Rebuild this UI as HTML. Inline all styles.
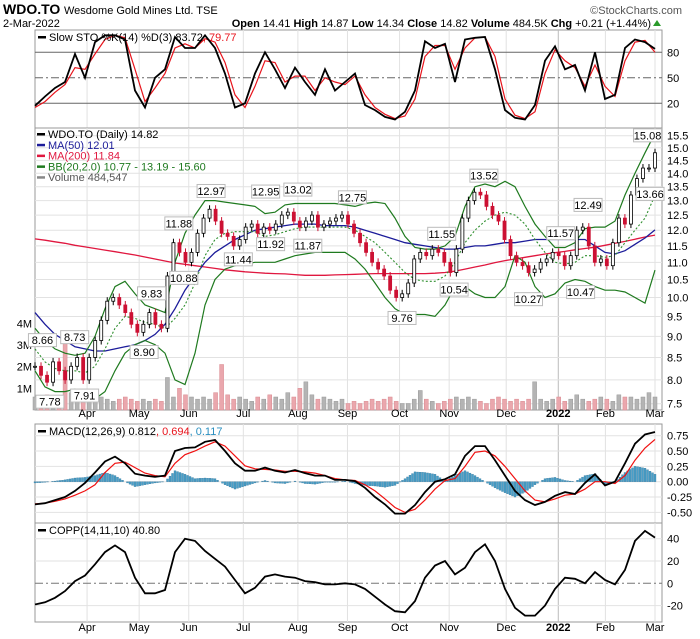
<!DOCTYPE html>
<html><head><meta charset="utf-8"><style>
html,body{margin:0;padding:0;background:#fff;}
svg{display:block;font-family:"Liberation Sans",sans-serif;}
</style></head><body>
<svg id="c" width="700" height="639" viewBox="0 0 700 639" xmlns="http://www.w3.org/2000/svg">
<g>
<text x="3" y="14" font-size="14" font-weight="bold">WDO.TO</text>
<text x="64" y="14" font-size="11">Wesdome Gold Mines Ltd.  TSE</text>
<text x="682" y="14" font-size="11" fill="#555" text-anchor="end">©StockCharts.com</text>
<text x="3" y="27" font-size="11">2-Mar-2022</text>
<text x="651" y="27" font-size="11" text-anchor="end"><tspan font-weight="bold">Open</tspan> 14.41 <tspan font-weight="bold">High</tspan> 14.87 <tspan font-weight="bold">Low</tspan> 14.34 <tspan font-weight="bold">Close</tspan> 14.82 <tspan font-weight="bold">Volume</tspan> 484.5K <tspan font-weight="bold">Chg</tspan> +0.21 (+1.44%)</text>
<path d="M653 26 L661 26 L657 20 Z" fill="#2a9a2a"/>
</g>
<g id="grid"></g>
<g id="marks"></g>
<g id="labels"></g>
</svg>
<script>
// ---- data ----
const monthNames=["Apr","May","Jun","Jul","Aug","Sep","Oct","Nov","Dec","2022","Feb","Mar"];
const monthDays=[21,42,62,84,106,126,147,167,190,211,230,250];
const closes=[8.3,8.1,7.95,8.4,8.2,8.0,8.3,8.5,8.0,8.5,8.9,9.4,9.9,10.0,9.8,9.6,9.3,9.1,9.3,9.6,9.3,9.2,10.6,11.6,11.3,11.0,11.3,11.9,12.4,12.7,12.3,11.9,11.8,11.5,11.7,12.1,12.2,11.9,12.1,12.0,12.2,12.5,12.6,12.3,12.1,12.3,12.5,12.1,12.2,12.3,12.4,12.5,12.2,11.9,11.6,11.3,11.0,10.8,10.6,10.2,10.0,10.1,10.4,11.1,11.3,11.2,11.4,11.3,11.0,10.7,11.4,12.4,13.0,13.3,13.2,12.8,12.5,12.3,11.7,11.2,11.0,10.9,10.7,10.8,11.0,11.1,11.3,11.2,10.9,11.2,12.0,12.1,11.5,11.0,11.1,10.9,11.6,12.4,12.2,13.2,13.8,14.2,14.2,14.8];
const volumes=[0.6,0.5,0.7,0.5,0.6,3.2,0.8,0.5,0.7,0.6,0.5,0.6,0.5,0.4,0.5,0.6,0.5,0.4,0.5,0.4,0.5,0.4,1.5,0.6,1.0,0.7,0.6,0.5,0.6,0.5,0.8,2.1,0.7,0.5,0.6,0.5,0.4,0.6,0.5,0.7,0.6,0.5,0.8,0.6,1.0,1.3,0.7,0.5,0.6,0.5,0.4,0.5,0.3,0.4,0.3,0.4,0.5,0.4,0.5,0.6,0.4,0.3,0.3,0.5,0.9,0.5,0.4,0.3,0.4,0.5,0.6,0.5,0.6,0.5,0.4,0.3,0.5,0.6,0.5,0.4,0.5,0.4,0.5,1.3,0.5,0.4,0.5,0.6,0.4,0.5,0.7,0.5,0.4,0.5,0.6,0.5,0.4,0.7,0.6,0.6,0.5,0.6,0.8,0.6];
const bbUpper=[9.2,8.9,8.7,8.6,8.55,8.6,9.0,9.7,10.3,10.45,10.1,9.8,9.7,9.6,11.0,11.9,12.5,13.0,13.0,12.95,12.9,12.85,12.8,12.55,12.6,12.85,12.9,12.9,12.9,12.9,12.9,12.85,12.8,12.9,12.95,12.9,12.4,11.8,11.45,11.4,11.4,11.5,11.8,12.8,13.5,13.6,13.5,13.7,13.5,12.8,12.2,11.8,11.45,11.45,11.6,12.05,12.1,12.1,12.3,13.2,14.0,14.8,15.6];
const bbLower=[8.2,7.85,7.75,7.75,7.8,7.65,7.6,7.75,8.2,8.6,8.8,8.9,8.8,8.6,8.0,7.9,8.6,9.8,10.5,10.8,10.9,10.95,11.0,11.0,11.0,11.1,11.2,11.25,11.3,11.3,11.3,11.3,11.1,10.8,10.4,10.0,9.7,9.55,9.55,9.55,9.5,9.8,10.3,10.3,10.1,10.0,10.0,10.3,11.2,11.0,10.3,10.0,10.1,10.4,10.5,10.45,10.3,10.2,10.2,10.15,10.0,9.85,10.77];
const bbMid=[8.7,8.4,8.25,8.2,8.2,8.15,8.3,8.7,9.2,9.5,9.45,9.35,9.3,9.2,9.45,9.8,10.4,11.2,11.7,11.9,11.95,11.95,11.95,11.8,11.85,11.95,12.05,12.1,12.1,12.1,12.1,12.1,12.0,11.8,11.6,11.3,11.0,10.7,10.5,10.45,10.45,10.6,11.0,11.6,12.0,12.3,12.5,12.6,12.5,12.2,11.7,11.3,11.0,10.95,11.0,11.2,11.2,11.15,11.2,11.6,12.0,12.4,13.19];
const ma50=[9.6,9.3,9.05,8.9,8.75,8.7,8.65,8.65,8.7,8.75,8.8,8.9,9.05,9.3,9.7,10.2,10.6,11.0,11.3,11.5,11.7,11.85,12.0,12.05,12.1,12.15,12.2,12.2,12.2,12.15,12.15,12.15,12.1,12.0,11.9,11.8,11.7,11.6,11.55,11.5,11.45,11.4,11.4,11.45,11.5,11.5,11.55,11.6,11.6,11.65,11.7,11.7,11.7,11.7,11.7,11.7,11.5,11.3,11.25,11.35,11.55,11.75,12.01];
const ma200=[11.72,11.68,11.63,11.58,11.52,11.47,11.42,11.37,11.32,11.27,11.22,11.16,11.1,11.04,10.98,10.94,10.9,10.86,10.82,10.78,10.75,10.72,10.7,10.68,10.67,10.66,10.64,10.62,10.62,10.62,10.63,10.64,10.65,10.66,10.67,10.67,10.67,10.67,10.67,10.67,10.68,10.7,10.74,10.8,10.86,10.92,10.99,11.05,11.1,11.15,11.2,11.25,11.29,11.33,11.38,11.42,11.46,11.52,11.58,11.64,11.71,11.78,11.84];
const stoK=[17,28,38,45,78,50,92,100,100,95,35,15,50,60,98,85,85,100,85,55,15,20,55,80,60,38,62,45,30,60,35,45,55,18,12,4,1,10,35,93,85,90,45,95,97,98,60,12,3,1,18,70,87,60,65,35,80,25,30,85,95,92,84];
const stoD=[15,22,33,42,62,60,78,95,100,97,60,22,38,55,85,90,85,96,92,68,30,15,40,70,68,45,52,52,35,50,45,42,52,30,15,7,2,5,25,75,88,88,60,85,97,98,75,25,6,2,10,55,83,70,62,40,65,40,28,70,92,94,80];
const macdLine=[-0.37,-0.35,-0.3,-0.25,-0.15,-0.02,0.15,0.33,0.41,0.3,0.13,0.1,0.08,0.1,0.5,0.55,0.56,0.65,0.68,0.5,0.3,0.18,0.18,0.23,0.18,0.15,0.19,0.14,0.1,0.1,0.03,0.03,0.01,-0.1,-0.25,-0.37,-0.52,-0.52,-0.38,-0.17,0.0,0.04,0.12,0.42,0.58,0.58,0.35,0.1,-0.15,-0.3,-0.38,-0.33,-0.23,-0.17,-0.2,-0.02,0.12,-0.06,0.0,0.3,0.62,0.77,0.81];
const macdSignal=[-0.36,-0.35,-0.32,-0.28,-0.22,-0.15,-0.05,0.15,0.3,0.32,0.23,0.14,0.1,0.08,0.3,0.44,0.5,0.58,0.65,0.58,0.42,0.26,0.21,0.2,0.19,0.17,0.17,0.16,0.14,0.1,0.05,0.03,0.02,-0.05,-0.15,-0.28,-0.42,-0.5,-0.45,-0.3,-0.12,0.02,0.05,0.25,0.48,0.5,0.42,0.25,0.05,-0.15,-0.3,-0.33,-0.28,-0.22,-0.2,-0.12,0.0,0.0,-0.03,0.1,0.35,0.55,0.69];
const macdHist=[-0.02,-0.01,0.01,0.03,0.06,0.07,0.1,0.15,0.1,0.0,-0.08,-0.05,-0.02,0.0,0.18,0.12,0.05,0.06,0.05,-0.05,-0.12,-0.07,-0.02,0.02,-0.02,-0.03,0.01,-0.03,-0.04,-0.01,-0.01,0.01,-0.03,-0.06,-0.07,-0.09,-0.06,0.05,0.16,0.15,0.12,0.01,0.1,0.18,0.1,0.0,-0.1,-0.18,-0.25,-0.17,-0.05,0.05,0.07,0.02,0.0,0.1,0.13,-0.05,0.0,0.15,0.25,0.22,0.12];
const copp=[-19,-17,-13,-7,2,7,17,28,34,28,5,-9,-9,-6,28,40,38,29,22,15,3,-9,-4,6,8,6,5,2,1,-1,-1,0,-1,-5,-12,-19,-25,-26,-16,5,16,20,8,14,28,35,20,-5,-22,-29,-29,-20,-5,5,4,0,10,3,-1,12,38,47,41];
const annoValues=["8.66","8.73","7.78","7.91","9.83","8.90","11.88","10.88","12.97","11.44","12.95","11.92","13.02","11.87","12.75","9.76","11.55","10.54","13.52","10.27","11.57","10.47","12.49","15.08","13.66"];
const annoDays=[3,16,6,20,47,44,58,60,71,82,93,95,106,110,128,148,164,169,181,199,212,220,223,247,248];
const annoHigh=[1,1,0,0,1,0,1,0,1,0,1,0,1,0,1,0,1,0,1,0,1,0,1,1,0];
const priceTicks=[15.5,15.0,14.5,14.0,13.5,13.0,12.5,12.0,11.5,11.0,10.5,10.0,9.5,9.0,8.5,8.0,7.5];
const volTicks=[4,3,2,1];
const stoTicks=[80,50,20];
const macdTicks=[0.75,0.5,0.25,0,-0.25,-0.5];
const coppTicks=[40,20,0,-20];

// ---- scales ----
const NS="http://www.w3.org/2000/svg";
const PL=35,PR=662,X0=35,X1=655;
const xDay=d=>35+d*2.48;
const xIdx=(i,n)=>X0+i*(X1-X0)/(n-1);
const yPrice=p=>135.7+(Math.log(15.5)-Math.log(p))/0.7259*268;
const yVol=v=>410-v*21.67;
const ySto=v=>120.3-v*0.85;
const yMacd=v=>481.7-v*61.33;
const yCopp=v=>583.3-v*1.115;
const G=document.getElementById('grid'),M=document.getElementById('marks'),L=document.getElementById('labels');
function el(parent,tag,attrs){const e=document.createElementNS(NS,tag);for(const k in attrs)e.setAttribute(k,attrs[k]);parent.appendChild(e);return e;}
function txt(parent,x,y,s,attrs){const e=el(parent,'text',Object.assign({x:x,y:y,'font-size':11},attrs||{}));e.textContent=s;return e;}
function poly(arr,yf){return arr.map((v,i)=>xIdx(i,arr.length).toFixed(1)+','+yf(v).toFixed(1)).join(' ');}

// panels
const panels=[["sto-panel",30,128],["price-panel",128,410],["macd-panel",424,523],["copp-panel",523,622]];
panels.forEach(p=>{
  const r=el(G,'rect',{x:PL,y:p[1],width:PR-PL,height:p[2]-p[1],fill:'#fff',stroke:'#999','stroke-width':1});
  
  
  monthDays.forEach((d,i)=>{
    const ln=el(G,'line',{x1:xDay(d),x2:xDay(d),y1:p[1],y2:p[2],stroke:i==9?'#bbb':'#e2e2e2','stroke-width':1});
    
    
  });
});
// x axis labels
[417,631].forEach(yy=>monthNames.forEach((m,i)=>{
  const t=txt(L,xDay(monthDays[i]),yy,m,{'text-anchor':'middle','font-size':11,'font-weight':i==9?'bold':'normal'});
  
  
}));
// horizontal grid + tick labels
function hgrid(ticks,yf,fmt,special){ticks.forEach(v=>{
  const y=yf(v);
  const ln=el(G,'line',{x1:PL,x2:PR,y1:y,y2:y,stroke:'#e2e2e2'});
  
  
  if(special)special(v,ln);
  const t=txt(L,667,y+4,fmt(v),{'font-size':11});
  
  
});}
hgrid(priceTicks,yPrice,v=>v.toFixed(1));
hgrid(stoTicks,ySto,v=>String(v),(v,ln)=>{ln.setAttribute('stroke','#666');if(v==50)ln.setAttribute('stroke-dasharray','8,3,2,3');});
hgrid(macdTicks,yMacd,v=>v.toFixed(2));
hgrid(coppTicks,yCopp,v=>String(v),(v,ln)=>{if(v==0){ln.setAttribute('stroke','#777');ln.setAttribute('stroke-dasharray','8,3,2,3');}});
volTicks.forEach(v=>{
  const t=txt(L,32,yVol(v)+4,v+'M',{'text-anchor':'end','font-size':11});
  
  
});

// volume bars
volumes.forEach((v,i)=>{
  const x=xIdx(i,volumes.length);
  const down=i>0&&closes[i]<closes[i-1];
  const r=el(M,'rect',{x:x-2,y:yVol(v),width:4,height:410-yVol(v),fill:down?'#eaa7ad':'#b4b4b4',stroke:down?'#d98a90':'#999','stroke-width':0.5});
  
  
});
// overlays
function line(parent,arr,yf,color,w,dash,name){
  const p=el(parent,'polyline',{points:poly(arr,yf),fill:'none',stroke:color,'stroke-width':w});
  if(dash)p.setAttribute('stroke-dasharray',dash);
  
  
  return p;
}
line(M,ma200,yPrice,'#e0173f',1.3,null,'ma200-line');
line(M,ma50,yPrice,'#1c1c9a',1.3,null,'ma50-line');
line(M,bbUpper,yPrice,'#1f7a1f',1.2,null,'bollinger-upper');
line(M,bbLower,yPrice,'#1f7a1f',1.2,null,'bollinger-lower');
line(M,bbMid,yPrice,'#2f8f2f',1.1,'2,2','bollinger-middle');
// candles
closes.forEach((c,i)=>{
  const x=xIdx(i,closes.length);
  const o=i>0?closes[i-1]:c;
  const up=c>=o;
  const yt=yPrice(Math.max(o,c)),yb=yPrice(Math.min(o,c));
  const col=up?'#000':'#cc1133';
  const w=el(M,'line',{x1:x,x2:x,y1:yt-4,y2:yb+4,stroke:col,'stroke-width':1});
  
  
  const b=el(M,'rect',{x:x-1.5,y:yt,width:3,height:Math.max(1,yb-yt),fill:up?'#fff':'#cc1133',stroke:col,'stroke-width':0.8});
  
  
});
// annotations
annoValues.forEach((s,i)=>{
  const x=xDay(annoDays[i]);
  const p=parseFloat(s);
  const y=annoHigh[i]?yPrice(p)-17:yPrice(p)+5;
  const g=el(L,'g',{});
  
  
  el(g,'rect',{x:x-14,y:y,width:28,height:13,fill:'#fff',stroke:'#bbb'});
  txt(g,x,y+10.5,s,{'text-anchor':'middle','font-size':11});
});
// STO
line(M,stoD,ySto,'#e8141c',1.2,null,'sto-d-line');
line(M,stoK,ySto,'#000',1.8,null,'sto-k-line');
// MACD hist
for(let k=0;k<=248;k++){
  const x=X0+k*(X1-X0)/248;
  const f=k*(macdHist.length-1)/248,i=Math.floor(f),t=f-i;
  const v=macdHist[i]+(i+1<macdHist.length?(macdHist[i+1]-macdHist[i])*t:0);
  const y0=yMacd(0),y1=yMacd(v);
  const r=el(M,'rect',{x:x-1,y:Math.min(y0,y1),width:2,height:Math.abs(y1-y0),fill:'#4a9fc8',stroke:'#2a6f95','stroke-width':0.3});
  
  
}
line(M,macdSignal,yMacd,'#f01010',1.2,null,'macd-signal-line');
line(M,macdLine,yMacd,'#000',1.8,null,'macd-line');
line(M,copp,yCopp,'#000',1.8,null,'coppock-line');

// legends
function legend(y,swatch,parts,name){
  const g=el(L,'g',{});
  
  
  el(g,'rect',{x:38,y:y-5,width:8,height:2.5,fill:swatch});
  const t=el(g,'text',{x:49,y:y,'font-size':11});
  parts.forEach(p=>{const s=el(t,'tspan',{fill:p[1]});s.textContent=p[0];});
}
legend(41,'#000',[["Slow STO %K(14) %D(3) 83.72",'#000'],[", 79.77",'#e8141c']],'sto-legend');
legend(435,'#000',[["MACD(12,26,9) 0.812",'#000'],[", 0.694",'#e8141c'],[", 0.117",'#2a8fc0']],'macd-legend');
legend(534,'#000',[["COPP(14,11,10) 40.80",'#000']],'copp-legend');
const lg=[["WDO.TO (Daily) 14.82",'#000','#000'],["MA(50) 12.01",'#1c1c9a','#1c1c9a'],["MA(200) 11.84",'#e0173f','#e0173f'],["BB(20,2.0) 10.77 - 13.19 - 15.60",'#1f7a1f','#1f7a1f'],["Volume 484,547",'#555','#888']];
lg.forEach((l,i)=>{
  const y=138+i*10.8;
  const g=el(L,'g',{});
  
  
  el(g,'rect',{x:37,y:y-5,width:8,height:2.5,fill:l[2]});
  txt(g,48,y,l[0],{fill:l[1],'font-size':11});
});
</script>
</body></html>
